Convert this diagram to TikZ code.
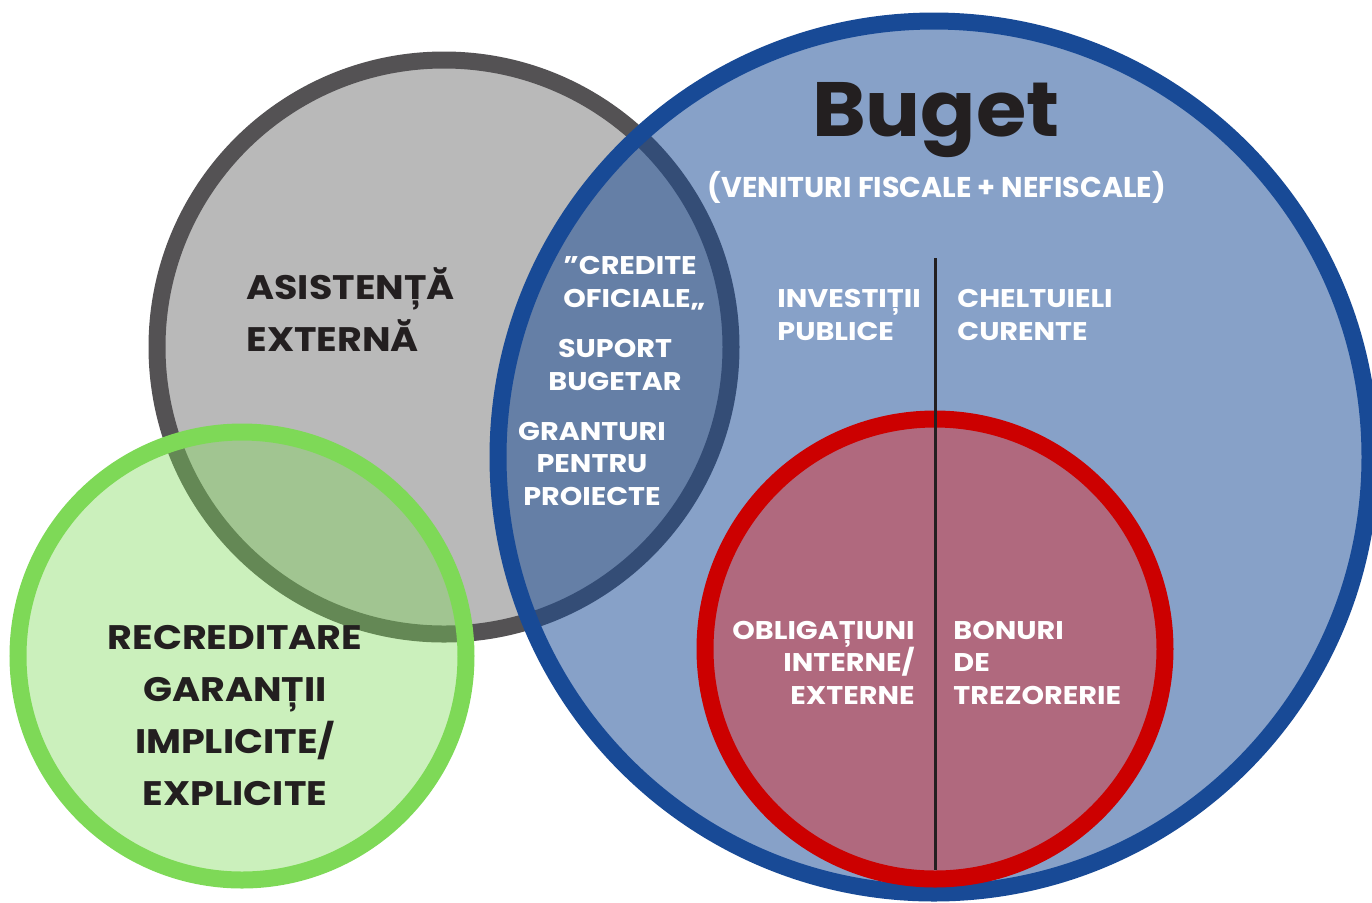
\documentclass[tikz,border=0pt]{standalone}
\usepackage{fontspec}
\setmainfont{Poppins}
\newfontfamily\wideface{Poppins}[FakeStretch=1.12]
\usepackage{xcolor}
\usepackage{tikz}
\usetikzlibrary{calc}

\definecolor{grayfill}{HTML}{B9B9B9}
\definecolor{graydraw}{HTML}{545254}
\definecolor{bluedraw}{HTML}{184A96}
\definecolor{greendraw}{HTML}{7ED957}
\definecolor{reddraw}{HTML}{CC0000}
\definecolor{redfill}{HTML}{B0697E}
\definecolor{inkdark}{HTML}{231F20}

\tikzset{
	ring/.style={line width=8.5pt},
	darklabel/.style={inner sep=0pt, text=inkdark, font=\wideface\fontsize{17}{26}\selectfont\bfseries},
	whitelabel/.style={inner sep=0pt, text=white, font=\wideface\fontsize{12.8}{16.25}\selectfont\bfseries}
}

\begin{document}
\begin{tikzpicture}[x=0.5pt, y=-0.5pt]
	\useasboundingbox (0,0) rectangle (1372,902);
	\clip (0,0) rectangle (1372,902);

	\coordinate[](ext) at (444,347);
	\coordinate[](rec) at (242,656);
	\coordinate[](bug) at (934,457);
	\coordinate[](obl) at (935,649);

	\pgfmathsetmacro{\rext}{287}
	\pgfmathsetmacro{\rrec}{224}
	\pgfmathsetmacro{\rbug}{436}
	\pgfmathsetmacro{\robl}{230}

	% Asistenta externa
	\filldraw[ring, fill=grayfill, draw=graydraw] (ext) circle (\rext);

	% Recreditare
	\fill[greendraw, fill opacity=0.4] (rec) circle (\rrec);
	\draw[ring, draw=greendraw] (rec) circle (\rrec);

	% Buget
	\fill[bluedraw, fill opacity=0.52] (bug) circle (\rbug);
	\draw[ring, draw=bluedraw] (bug) circle (\rbug);

	% Obligatiuni
	\filldraw[ring, fill=redfill, draw=reddraw] (obl) circle (\robl);

	% Separator
	\coordinate[](septop) at (935,258);
	\coordinate[](sepbot) at (935,870);
	\draw[line width=1.5pt, draw=inkdark] (septop) -- (sepbot);

	% Texte
	\node[inner sep=0pt, text=inkdark, anchor=base, font=\fontsize{38.5}{40}\selectfont\bfseries] (buget) at (936,136) {\addfontfeature{FakeStretch=1.06}Buget};
	\node[inner sep=0pt, text=white, anchor=base, font=\fontsize{14.3}{16}\selectfont\bfseries] (venituri) at (937,197) {(VENITURI FISCALE + NEFISCALE)};

	\node[darklabel, anchor=base west, align=left] (asist) at (246,351) {ASISTENȚĂ\\EXTERNĂ};
	\node[darklabel, anchor=base, align=center] (recred) at (235,805) {RECREDITARE\\GARANȚII\\IMPLICITE/\\EXPLICITE};

	\node[whitelabel, anchor=base west, align=left] (credite) at (563,307) {”CREDITE\\OFICIALE„};
	\node[whitelabel, anchor=base, align=center] (suport) at (615,390) {SUPORT\\BUGETAR};
	\node[whitelabel, anchor=base, align=center] (granturi) at (592,505) {GRANTURI\\PENTRU\\PROIECTE};

	\node[whitelabel, anchor=base west, align=left] (invest) at (777,340) {INVESTIȚII\\PUBLICE};
	\node[whitelabel, anchor=base west, align=left] (chelt) at (957,340) {CHELTUIELI\\CURENTE};

	\node[whitelabel, anchor=base east, align=right] (oblig) at (915,704) {OBLIGAȚIUNI\\INTERNE/\\EXTERNE};
	\node[whitelabel, anchor=base west, align=left] (bonuri) at (953,704) {BONURI\\DE\\TREZORERIE};
\end{tikzpicture}
\end{document}
